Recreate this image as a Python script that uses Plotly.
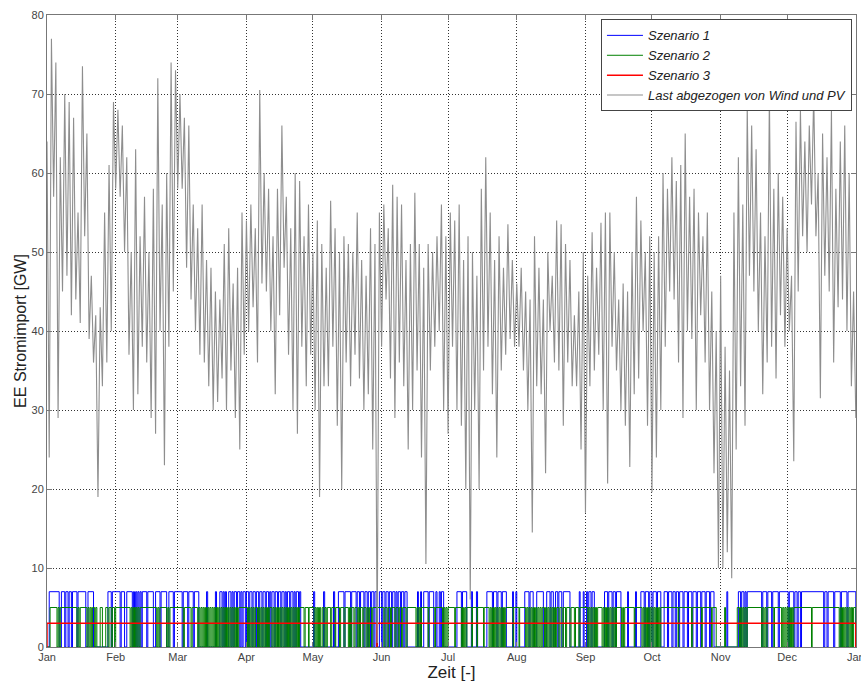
import numpy as np
import pandas as pd
import plotly.graph_objects as go

# ---------------- data ----------------
# residual load (Last abgezogen von Wind und PV), GW: local high / low per 2-day block
last_hoch = [
    64, 77, 74, 62, 70, 69, 67, 55, 73.5, 65, 47, 42, 43, 55, 61, 69,          # Jan
    68, 66, 62, 50, 63, 52, 57, 50, 58, 72, 56, 60, 74, 73,                    # Feb
    70, 67, 66, 56, 53, 56, 49, 48, 45, 44, 51, 53, 46, 48, 55,                # Mar
    54, 56, 53, 70.5, 60, 58, 52, 58, 66, 57, 53, 60, 59, 52, 56,              # Apr
    50, 54, 51, 48, 56.5, 53, 50, 52, 51, 50, 55, 49, 47, 53, 51, 55,          # May
    56, 53, 58.5, 57, 56, 49, 51, 57.5, 51, 48, 51, 50, 52, 56, 52,            # Jun
    55, 54, 56, 49, 52, 50, 47, 58, 62, 55, 49, 52, 48, 53.5, 49,              # Jul
    46, 48, 45, 44, 52, 48, 44, 50, 47, 54, 53.5, 51, 49, 42, 45,              # Aug
    50, 47, 52.5, 48, 53.7, 55, 55, 50, 44, 46, 45, 50, 57, 54, 50, 52,        # Sep
    50, 52, 60, 58, 62, 59, 61, 65, 57, 58, 55, 52, 55, 45, 40,                # Oct
    47, 38, 35, 55, 62, 56, 68.5, 66, 63, 55, 52, 70, 58, 60, 57,              # Nov
    53, 47, 66.5, 68, 64, 66, 70, 60, 65, 62, 68, 58, 64, 66, 60, 45,          # Dec
]
last_tief = [
    24, 57, 29, 45, 47, 42, 44, 41, 52, 39, 36, 19, 33, 36, 40, 58,            # Jan
    57, 50, 37, 30, 32, 38, 36, 29, 27, 40, 23, 38, 45, 58,                    # Feb
    58, 48, 44, 40, 37, 36, 33, 30, 31, 34, 30, 35, 29, 25, 37,                # Mar
    40, 43, 36, 46, 45, 40, 32, 42, 48, 37, 30, 27, 38, 33, 37,                # Apr
    30, 19, 33, 33, 38, 28, 20, 36, 33, 37, 34, 30, 32, 25, 0.5, 38,           # May
    44, 34, 29, 36, 33, 25, 30, 35, 24, 10.5, 35, 38, 40, 30, 27,              # Jun
    38, 30, 28, 20, 6, 30, 20, 35, 38, 32, 24, 35, 37, 39, 38,                 # Jul
    38, 35, 30, 14.5, 33, 32, 22, 40, 36, 35, 28, 36, 33, 33, 25,              # Aug
    17, 33, 35, 37, 30, 20.7, 38, 35, 30, 28, 22.8, 32, 34, 40, 28, 19.6,      # Sep
    24, 30, 38, 45, 44, 36, 29, 40, 39, 30, 42, 36, 30, 22, 10,                # Oct
    10, 12, 8.7, 25, 33, 28, 47, 45, 40, 32, 36, 38, 34, 42, 38,               # Nov
    40, 23.5, 45, 52, 50, 56, 52, 31.5, 47, 45, 36, 43, 44, 40, 33, 29,        # Dec
]

# Szenario 1: 7 GW import, periods (day of year from, to) with import
s1_stufe = 7
s1_import = [
    (1, 5.5), (6.5, 8), (8.5, 9.5), (10, 11), (11.5, 13.5), (14, 17.5), (18.5, 21), (27.5, 29), (29.5, 33),
    (33.5, 35), (36, 38.5), (39, 39.5), (40, 40.5), (41, 41.5), (42, 42.5), (43, 45), (45.5, 48), (49, 51),
    (51.5, 54), (55, 57), (57.5, 61),
    (61.5, 63.5), (64, 66), (66.5, 68.5), (72, 72.5), (76, 76.5), (78, 79), (79.5, 80), (80.5, 81), (82, 83),
    (83.5, 84), (84.5, 85.5), (86, 87), (87.5, 88), (88.5, 89.5), (90, 91),
    (91.5, 92.5), (93, 94), (94.5, 95.5), (96, 97), (97.5, 98.5), (99, 100), (100.5, 101), (101.5, 102.5),
    (103, 104), (104.5, 105.5), (106, 107), (107.5, 108), (108.5, 109.5), (110, 111), (111.5, 112),
    (112.5, 113.5), (114, 114.5),
    (120.3, 120.8), (124.8, 125.3), (129.3, 129.8), (131.5, 134), (134.5, 137), (137.5, 139.5), (140, 141),
    (141.5, 143), (143.5, 144.5), (145, 146), (146.5, 147.5), (148, 148.9),
    (150, 151), (151.5, 152.5), (153, 154), (154.5, 155.5), (156, 157), (157.5, 158), (158.5, 159.5),
    (160, 161), (161.5, 162.5), (167.2, 167.6), (168.6, 169), (170, 172), (172.5, 174.5), (175.5, 176),
    (177, 177.5), (178, 179),
    (185, 187), (187.5, 189.4), (191.5, 192), (193.8, 194.3), (198.5, 201), (201.5, 203), (203.5, 205),
    (205.5, 207.3), (210.1, 210.5), (211.6, 212),
    (215.6, 217.5), (218, 219.4), (221, 224), (225.5, 227), (227.5, 228.5), (229.5, 230.5), (231, 232.3),
    (233, 236), (240.2, 240.6),
    (242, 242.4), (243.5, 244), (244.5, 245.5), (246, 247), (251.6, 253), (253.5, 255), (255.5, 256.5),
    (257, 259), (262, 262.4), (265.6, 266), (268, 269.5), (270, 271.5), (272, 273),
    (273.5, 275), (275.5, 277), (278.5, 280), (280.5, 282), (282.5, 283.5), (284, 285), (285.5, 287),
    (287.5, 289), (289.5, 291), (291.5, 293), (293.5, 295), (295.5, 297), (297.5, 299), (299.5, 301),
    (306.8, 307.2), (312, 313), (313.5, 314.5), (315, 315.5), (316, 322.5), (323, 324.8), (325.3, 327),
    (327.5, 330), (330.5, 334.5),
    (335, 337), (337.5, 338.5), (339, 340), (340.5, 350.5), (351, 352), (352.5, 355), (355.5, 358),
    (358.5, 361), (361.5, 365),
]

# Szenario 2: 5 GW import, pauses (day of year from, to) without import
s2_stufe = 5
s2_pausen = [
    (0, 1.4), (4.5, 5), (5.5, 6), (13.5, 14), (14.5, 15), (18, 18.5), (19, 19.5), (20, 20.5), (21.5, 22),
    (22.5, 24), (25, 26.5), (27.5, 28),
    (29, 29.5), (30.5, 31), (37.5, 38), (38.5, 39), (39.5, 40), (40.5, 41), (41.5, 42), (49.5, 50),
    (50.5, 51), (54, 54.5), (55, 55.5),
    (61.5, 62), (65, 65.5), (68, 68.5), (69, 69.5), (70, 70.5), (71, 71.5), (72, 72.5), (73, 73.5),
    (74, 74.5), (75, 75.5), (76, 76.5), (77, 77.5), (78, 78.5), (79, 79.5), (80, 80.5), (81, 81.5),
    (82, 82.5), (83, 83.5), (84, 84.5), (85, 85.5), (86, 86.5),
    (90.5, 91), (91.5, 92), (92.5, 93), (93.5, 94), (95, 95.5), (96, 96.5), (97, 97.5), (98, 98.5),
    (99, 99.5), (100, 100.5), (101.5, 102), (102.5, 103), (103.5, 104), (104.5, 105), (105.5, 106),
    (106.5, 107), (107.5, 108), (108.5, 109), (109.5, 110), (110.5, 111), (111.5, 112), (112.5, 113),
    (113.5, 114),
    (116, 116.5), (118, 118.3), (120.5, 121), (121.5, 122), (122.5, 123), (123.5, 124.2), (125, 125.5),
    (126, 126.5), (128, 128.5), (130, 130.3), (132, 132.5), (134, 134.5), (136, 136.5), (137, 137.5),
    (138.5, 139), (140, 140.5), (141, 141.5), (142.5, 143), (144, 144.5), (145, 145.5), (146.5, 147),
    (148.9, 149.1),
    (152, 152.5), (153.5, 154), (155, 155.5), (157, 157.5), (158.5, 159), (160, 160.5), (162, 162.5),
    (166.5, 167), (167.5, 168), (168.5, 169), (172, 172.3), (175, 175.3), (178.5, 179), (179.5, 180),
    (180.5, 181),
    (184, 184.3), (187, 187.5), (188, 188.5), (189, 189.5), (191.7, 192), (194, 194.3), (197, 197.3),
    (199.5, 200), (200.5, 201), (201.5, 202), (202.5, 203), (203.5, 204), (204.5, 205), (205.5, 206),
    (206.5, 207), (210.3, 210.6), (213, 213.3),
    (216, 216.5), (217, 217.5), (218, 218.5), (219, 219.5), (220, 220.5), (221, 221.5), (222, 222.5),
    (223, 223.5), (224.5, 225), (225.5, 226), (226.5, 227), (227.5, 228), (228.5, 229), (229.5, 230),
    (231, 231.5), (232.5, 233), (234, 234.5), (236, 236.5), (238, 238.5), (240, 240.5),
    (244, 244.5), (245, 245.5), (246, 246.5), (247, 247.5), (248, 248.5), (250.5, 251), (251.5, 252),
    (252.5, 253), (253.5, 254), (254.5, 255), (255.5, 256), (256.5, 257), (259.3, 259.8), (260.2, 260.7),
    (265, 265.3), (268.5, 269), (269.5, 270), (270.5, 271), (271.5, 272), (272.5, 273),
    (273.5, 274), (274.5, 275), (275.5, 276), (276.5, 277), (284.8, 285.1), (290.9, 291.2),
    (295.4, 295.7), (299.9, 300.2), (302, 305.8), (306.2, 311.5),
    (312.5, 313), (313.5, 314), (314.5, 315), (315.5, 316), (322.5, 323), (323.5, 324), (324.5, 325),
    (328, 328.3), (331.5, 332), (332.5, 333), (333.5, 334), (334.5, 335), (335.5, 336), (336.5, 337),
    (345, 345.3), (357.5, 358), (358.5, 359), (359.5, 360), (360.5, 361), (361.5, 362), (362.5, 363),
    (363.5, 364),
]

# Szenario 3: constant 3 GW, one short pause
s3_stufe = 3
s3_pausen = [(148.9, 149.1)]

jahrestage = 365
startdatum = "2010-01-01"

# ---------------- helpers ----------------
base = pd.Timestamp(startdatum)


def to_dates(days):
    return base + pd.to_timedelta(np.asarray(days, dtype=float), unit="D")


def complement(pausen, total):
    on, prev = [], 0.0
    for s, e in sorted(pausen):
        if s > prev:
            on.append((prev, s))
        prev = max(prev, e)
    if prev < total:
        on.append((prev, total))
    return on


def step_xy(on_intervals, level, total):
    xs, ys = [0.0], [0.0]
    for s, e in sorted(on_intervals):
        xs += [s, s, e, e]
        ys += [0, level, level, 0]
    xs.append(total)
    ys.append(0)
    return to_dates(xs), ys


# residual-load zigzag: high at day 2k, low at day 2k+1
last_x, last_y = [], []
for k, (h, t) in enumerate(zip(last_hoch, last_tief)):
    last_x += [2 * k, 2 * k + 1]
    last_y += [h, t]
last_x = to_dates(last_x)

x1, y1 = step_xy(s1_import, s1_stufe, jahrestage)
x2, y2 = step_xy(complement(s2_pausen, jahrestage), s2_stufe, jahrestage)
x3, y3 = step_xy(complement(s3_pausen, jahrestage), s3_stufe, jahrestage)

fig = go.Figure()
fig.add_trace(go.Scatter(x=x1, y=y1, mode="lines", name="Szenario 1",
                         line=dict(color="#0000ff", width=1)))
fig.add_trace(go.Scatter(x=x2, y=y2, mode="lines", name="Szenario 2",
                         line=dict(color="#008000", width=1)))
fig.add_trace(go.Scatter(x=x3, y=y3, mode="lines", name="Szenario 3",
                         line=dict(color="#ff0000", width=1.5)))
fig.add_trace(go.Scatter(x=last_x, y=last_y, mode="lines", name="Last abgezogen von Wind und PV",
                         line=dict(color="#8e8e8e", width=1.1)))

axis_common = dict(
    showgrid=True, gridcolor="#333333", griddash="1px,2px", gridwidth=1,
    showline=True, linecolor="#777777", linewidth=1, mirror="allticks",
    ticks="inside", ticklen=5, tickcolor="#777777",
    tickfont=dict(size=11, color="#444444"), zeroline=False, automargin=False,
    ticklabeloverflow="allow",
)

fig.update_xaxes(
    type="date", range=[base, base + pd.Timedelta(days=jahrestage, hours=2)],
    tick0=startdatum, dtick="M1", tickformat="%b",
    title=dict(text="Zeit [-]", font=dict(size=17, color="#222222"), standoff=0),
    **axis_common,
)
fig.update_yaxes(
    range=[0, 80], dtick=10,
    title=dict(text="EE Stromimport [GW]", font=dict(size=16, color="#222222"), standoff=0),
    **axis_common,
)

fig.update_layout(
    width=861, height=684,
    margin=dict(l=47, r=5, t=15, b=37),
    paper_bgcolor="white", plot_bgcolor="white",
    font=dict(family="Liberation Sans, Arial, sans-serif", color="#222222"),
    showlegend=True,
    legend=dict(
        x=0.995, y=0.993, xanchor="right", yanchor="top",
        bgcolor="white", bordercolor="#444444", borderwidth=1,
        font=dict(size=13, style="italic", color="#222222"),
        tracegroupgap=0, itemwidth=36,
    ),
)

fig.write_html("out.html")
